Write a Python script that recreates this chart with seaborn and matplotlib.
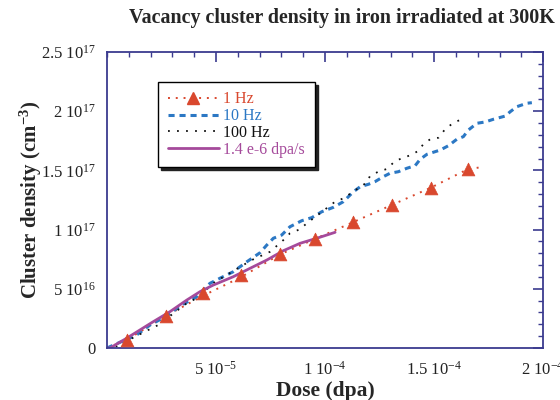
import numpy as np
import pandas as pd
import matplotlib
matplotlib.use("Agg")
import matplotlib.pyplot as plt
import seaborn as sns
from matplotlib.lines import Line2D
from matplotlib.ticker import FixedLocator, FixedFormatter, MultipleLocator

# ---- data (dose in 1e-5 dpa, density in 1e16 cm^-3) ----
DOSE_UNIT = 1e-5
DENS_UNIT = 1e16

hz1_marker_dose = [0.90, 2.69, 4.39, 6.16, 7.94, 9.54, 11.30, 13.06, 14.85, 16.56]
hz1_marker_dens = [0.68, 2.70, 4.62, 6.17, 7.91, 9.21, 10.64, 12.08, 13.54, 15.12]
hz1_line_dose = [0.0, 0.90, 2.69, 4.39, 6.16, 7.94, 9.54, 11.30, 13.06, 14.85, 16.56, 17.14]
hz1_line_dens = [0.0, 0.68, 2.70, 4.40, 6.00, 7.91, 9.21, 10.64, 12.08, 13.54, 15.12, 15.26]

hz10_dose = [0.0, 1.36, 1.97, 2.74, 3.35, 4.11, 4.72, 5.18, 5.79, 6.42, 7.02, 7.33, 7.63, 8.01,
             8.39, 8.93, 9.39, 9.85, 10.38, 10.84, 11.30, 11.61, 11.99, 12.29, 12.67, 12.98,
             13.36, 13.75, 14.13, 14.36, 14.67, 15.28, 15.66, 16.04, 16.34, 16.57, 16.96,
             17.34, 17.72, 18.26, 18.49, 18.79, 19.25, 19.48]
hz10_dens = [0.0, 1.10, 1.94, 2.70, 3.55, 4.33, 5.46, 5.89, 6.44, 7.29, 8.05, 8.70, 9.27, 9.54,
             10.24, 10.75, 11.01, 11.51, 11.88, 12.36, 13.20, 13.62, 13.83, 14.05, 14.47, 14.76,
             14.89, 15.18, 15.40, 15.94, 16.36, 16.72, 17.09, 17.63, 17.85, 18.41, 18.98,
             19.09, 19.32, 19.59, 19.96, 20.38, 20.67, 20.72]

hz100_dose = [0.0, 0.28, 1.89, 2.35, 2.89, 3.66, 4.11, 4.95, 6.18, 6.64, 7.48, 8.09, 8.39, 8.85,
              9.16, 9.77, 10.46, 10.84, 11.91, 12.06, 12.44, 12.83, 13.21, 13.52, 13.98, 14.28,
              14.51, 14.82, 15.20, 15.50, 15.89, 16.19]
hz100_dens = [0.0, 0.0, 1.52, 1.94, 2.70, 3.78, 4.20, 5.57, 6.93, 7.43, 8.13, 9.12, 9.69, 10.03,
              10.53, 11.38, 12.36, 12.64, 13.98, 14.53, 14.89, 15.12, 15.79, 16.02, 16.33, 16.66,
              17.23, 17.63, 17.76, 18.47, 19.03, 19.26]

cont_dose = [0.0, 0.14, 0.90, 1.51, 2.12, 2.89, 3.66, 4.27, 4.88, 5.79, 6.56, 7.33, 8.09, 8.85, 9.62, 10.46]
cont_dens = [0.0, 0.0, 0.82, 1.52, 2.22, 3.07, 4.05, 4.76, 5.32, 6.02, 6.73, 7.43, 8.22, 8.84, 9.27, 9.77]

series_labels = ["1 Hz", "10 Hz", "100 Hz", "1.4 e-6 dpa/s"]
x_tick_vals = [5e-5, 1e-4, 1.5e-4, 2e-4]
x_tick_labels = [r"5 10$^{-5}$", r"1 10$^{-4}$", r"1.5 10$^{-4}$", r"2 10$^{-4}$"]
y_tick_vals = [0, 5e16, 1e17, 1.5e17, 2e17, 2.5e17]
y_tick_labels = ["0", r"5 10$^{16}$", r"1 10$^{17}$", r"1.5 10$^{17}$", r"2 10$^{17}$", r"2.5 10$^{17}$"]

title = "Vacancy cluster density in iron irradiated at 300K"
xlabel = "Dose (dpa)"
ylabel = r"Cluster density (cm$^{-3}$)"

# ---- style ----
sns.set_style("white")
plt.rcParams["font.family"] = ["Liberation Serif", "DejaVu Serif"]
plt.rcParams["mathtext.fontset"] = "custom"
plt.rcParams["mathtext.rm"] = "Liberation Serif"
plt.rcParams["mathtext.it"] = "Liberation Serif:italic"
plt.rcParams["mathtext.bf"] = "Liberation Serif:bold"
plt.rcParams["mathtext.default"] = "regular"

RED = "#d9482e"
BLUE = "#2c78c4"
BLACK = "#111111"
PURPLE = "#a54a9b"
AXC = "#3b3b8f"

def frame(xs, ys):
    return pd.DataFrame({"x": np.array(xs) * DOSE_UNIT, "y": np.array(ys) * DENS_UNIT})

fig = plt.figure(figsize=(5.6, 4.0), dpi=100)
ax = fig.add_axes([0.191, 0.13, 0.779, 0.74])

d = frame(hz1_line_dose, hz1_line_dens)
sns.lineplot(data=d, x="x", y="y", sort=False, estimator=None, ax=ax, color=RED,
             lw=1.4, linestyle=(0, (1, 3)))
d = frame(hz10_dose, hz10_dens)
sns.lineplot(data=d, x="x", y="y", sort=False, estimator=None, ax=ax, color=BLUE,
             lw=2.2, linestyle=(0, (2, 1.6)))
d = frame(hz100_dose, hz100_dens)
sns.lineplot(data=d, x="x", y="y", sort=False, estimator=None, ax=ax, color=BLACK,
             lw=1.3, linestyle=(0, (1, 4)))
d = frame(cont_dose, cont_dens)
sns.lineplot(data=d, x="x", y="y", sort=False, estimator=None, ax=ax, color=PURPLE,
             lw=2.0, linestyle="-")
d = frame(hz1_marker_dose, hz1_marker_dens)
sns.scatterplot(data=d, x="x", y="y", ax=ax, color=RED, marker="^", s=85,
                edgecolor=RED, linewidth=0.5, zorder=5)

ax.set_xlim(0, 2e-4)
ax.set_ylim(0, 2.5e17)
ax.xaxis.set_major_locator(FixedLocator(x_tick_vals))
ax.xaxis.set_major_formatter(FixedFormatter(x_tick_labels))
ax.xaxis.set_minor_locator(MultipleLocator(1e-5))
ax.yaxis.set_major_locator(FixedLocator(y_tick_vals))
ax.yaxis.set_major_formatter(FixedFormatter(y_tick_labels))
ax.yaxis.set_minor_locator(MultipleLocator(1e16))
ax.tick_params(which="both", direction="in", top=True, right=True, colors=AXC,
               labelcolor="#222222", labelsize=12)
ax.tick_params(axis="x", which="major", pad=9)
ax.tick_params(axis="y", which="major", pad=8)
ax.tick_params(which="major", length=7, width=1.2)
ax.tick_params(which="minor", length=3.5, width=1.0)
for s in ax.spines.values():
    s.set_color(AXC)
    s.set_linewidth(1.3)

ax.set_xlabel(xlabel, fontsize=15.5, fontweight="bold", labelpad=2)
ax.set_ylabel(ylabel, fontsize=15, fontweight="bold", labelpad=-2)
fig.text(0.61, 0.955, title, ha="center", va="center", fontsize=14.4, fontweight="bold")

handles = [
    Line2D([0, 0.5, 1], [0, 0, 0], color=RED, lw=1.4, linestyle=(0, (1, 3)), marker="^",
           markersize=8, markevery=[1]),
    Line2D([], [], color=BLUE, lw=2.2, linestyle=(0, (2, 1.6))),
    Line2D([], [], color=BLACK, lw=1.3, linestyle=(0, (1, 4))),
    Line2D([], [], color=PURPLE, lw=2.0),
]
leg = ax.legend(handles, series_labels, loc="upper left", bbox_to_anchor=(0.117, 0.899),
                borderaxespad=0, frameon=True, fancybox=False,
                shadow={"color": "#222222", "alpha": 1.0},
                edgecolor="black", framealpha=1, fontsize=11.5, handlelength=3.2,
                handletextpad=0.3, labelspacing=0.05, borderpad=0.6)
leg.get_frame().set_linewidth(1.0)
for t, c in zip(leg.get_texts(), [RED, BLUE, BLACK, PURPLE]):
    t.set_color(c)

fig.savefig("out.png", dpi=100)
